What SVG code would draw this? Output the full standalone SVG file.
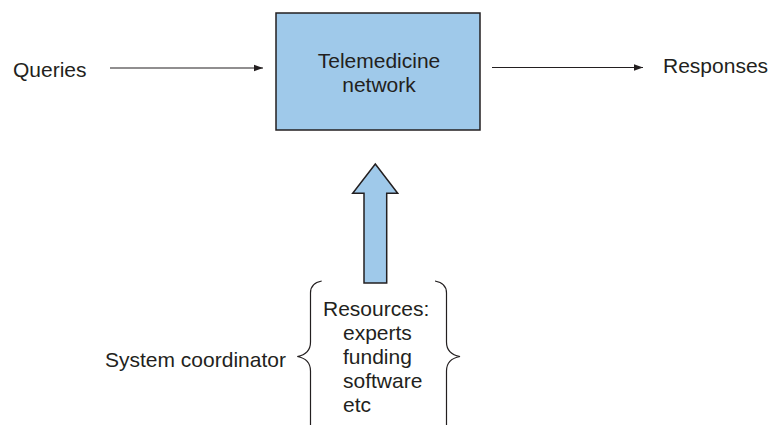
<svg xmlns="http://www.w3.org/2000/svg" width="772" height="425" viewBox="0 0 772 425">
<style>
text{font-family:"Liberation Sans",Arial,sans-serif;font-size:21px;fill:#231f20}
.ln{stroke:#231f20;stroke-width:1.2;fill:none}
.blue{fill:#9fc9ea;stroke:#231f20;stroke-width:1.5}
</style>
<defs>
<marker id="ah" markerWidth="10" markerHeight="8" refX="9" refY="4" orient="auto" markerUnits="userSpaceOnUse">
<path d="M0,0.8 L9,4 L0,7.2 Z" fill="#231f20"/>
</marker>
</defs>
<rect width="772" height="425" fill="#fff"/>
<g id="network">
<rect class="blue" x="276" y="13" width="204" height="117"/>
<text x="379" y="68" text-anchor="middle">Telemedicine</text>
<text x="379" y="92" text-anchor="middle">network</text>
</g>
<g id="queries"><text x="13" y="77">Queries</text></g>
<g id="responses"><text x="663" y="73">Responses</text></g>
<g id="coordinator"><text x="105" y="367">System coordinator</text></g>
<g id="resources">
<path class="ln" d="M321.7,281 Q310.5,283 310.5,293 L310.5,342 Q310.5,354 297.3,356.5 Q310.5,359 310.5,371 L310.5,426"/>
<path class="ln" d="M435,281 Q446.5,283 446.5,293 L446.5,342 Q446.5,354 460,356.5 Q446.5,359 446.5,371 L446.5,426"/>
<text x="323" y="316">Resources:</text>
<text x="343" y="340">experts</text>
<text x="343" y="364">funding</text>
<text x="343" y="388">software</text>
<text x="343" y="412">etc</text>
</g>
<g id="connectors">
<line class="ln" x1="110" y1="68" x2="263" y2="68" marker-end="url(#ah)"/>
<line class="ln" x1="492" y1="67.5" x2="643" y2="67.5" marker-end="url(#ah)"/>
<path class="blue" d="M375.3,164 L397.7,193.3 L386.7,193.3 L386.7,283 L364,283 L364,193.3 L352.7,193.3 Z"/>
</g>
</svg>
